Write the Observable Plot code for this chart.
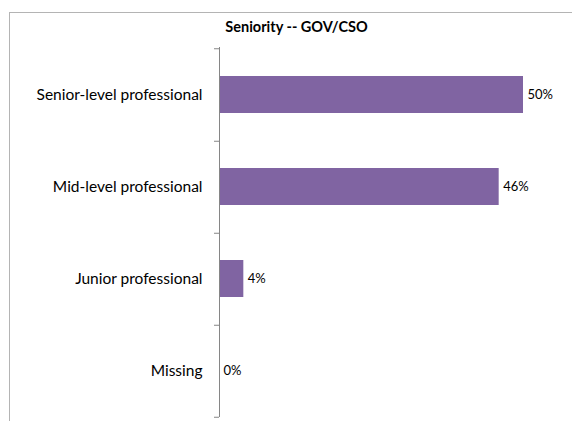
<!DOCTYPE html>
<html>
<head>
<meta charset="utf-8">
<script src="https://cdn.jsdelivr.net/npm/d3@7"></script>
<script src="https://cdn.jsdelivr.net/npm/@observablehq/plot@0.6"></script>
<style>
  html, body { margin: 0; padding: 0; background: #fff; }
  #wrap { position: relative; width: 572px; height: 421px; overflow: hidden; }
  #frame { position: absolute; left: 9px; top: 12px; right: -5px; bottom: -5px;
           border-top: 1px solid #b4b4b4; border-left: 1px solid #b4b4b4; pointer-events: none; }
  #title { position: absolute; left: 0; width: 593px; top: 18px; text-align: center;
           font: bold 14.5px Lato, "Open Sans", sans-serif; color: #000; }
  svg { display: block; }
</style>
</head>
<body>
<div id="wrap">
  <div id="frame"></div>
  <div id="title">Seniority -- GOV/CSO</div>
</div>
<script>
const title = "Seniority -- GOV/CSO";
const categories = ["Senior-level professional", "Mid-level professional", "Junior professional", "Missing"];
const values = [50, 46, 4, 0];

const data = categories.map((c, i) => ({category: c, value: values[i]}));
const font = "Lato, 'Open Sans', sans-serif";
const height = 421, marginTop = 47, marginBottom = 4;
const halfStep = (height - marginTop - marginBottom) / categories.length / 2;

document.getElementById("title").textContent = title;

const chart = Plot.plot({
  width: 572,
  height,
  marginTop,
  marginBottom,
  marginLeft: 219,
  marginRight: 49,
  style: {fontFamily: font, background: "transparent", overflow: "visible"},
  x: {domain: [0, 50], axis: null},
  y: {domain: categories, paddingInner: 0.6, paddingOuter: 0.3, label: null},
  marks: [
    Plot.barX(data, {x: "value", y: "category", fill: "#8064a2", insetLeft: 1}),
    Plot.text(data, {x: "value", y: "category", text: d => d.value + "%", dx: 4, textAnchor: "start",
      fontSize: 13, fill: "#000"}),
    Plot.axisY({tickSize: 0, tickPadding: 17, fontSize: 15.5, fill: "#000", label: null}),
    Plot.axisY({text: null, tickSize: 5, dy: halfStep, stroke: "#868686", label: null}),
    Plot.axisY(categories.slice(0, 1), {text: null, tickSize: 5, dy: -halfStep, stroke: "#868686", label: null}),
    Plot.ruleX([0], {stroke: "#868686"})
  ]
});
document.getElementById("wrap").insertBefore(chart, document.getElementById("frame"));
</script>
</body>
</html>
